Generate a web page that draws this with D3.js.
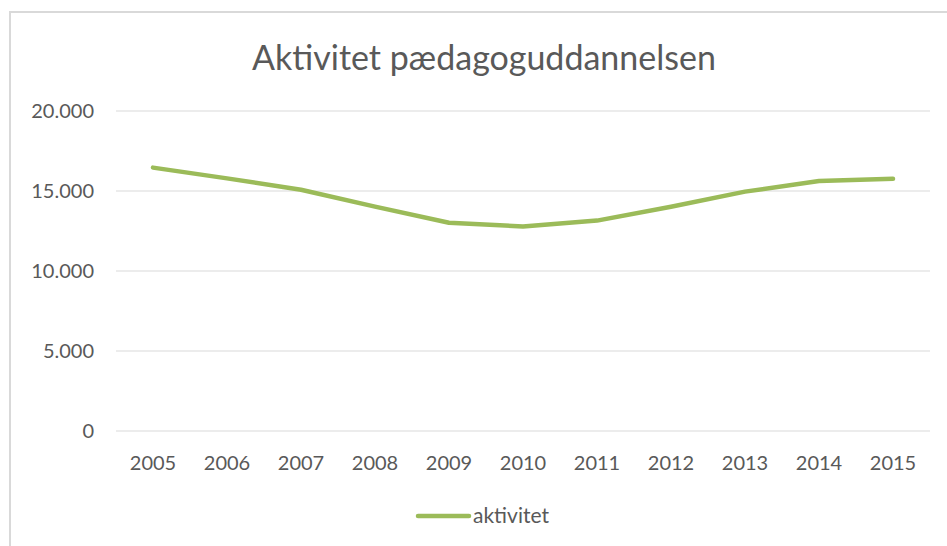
<!DOCTYPE html>
<html>
<head>
<meta charset="utf-8">
<script src="https://cdnjs.cloudflare.com/ajax/libs/d3/7.8.5/d3.min.js"></script>
<style>
  body { margin: 0; background: #fff; }
  svg text { font-family: Lato, "Open Sans", sans-serif; fill: #595959; }
</style>
</head>
<body>
<svg id="vis_svg" width="947" height="546"></svg>
<script>
// data
let years = ['2005', '2006', '2007', '2008', '2009', '2010', '2011', '2012', '2013', '2014', '2015'];
let aktivitet = [16460, 15790, 15080, 14020, 13020, 12780, 13150, 14020, 14960, 15620, 15760];
let yTicks = [0, 5000, 10000, 15000, 20000];
let seriesName = 'aktivitet';
let title = 'Aktivitet pædagoguddannelsen';

let svg = d3.select('svg#vis_svg');

// chart frame
svg.append('rect')
    .attr('x', 10).attr('y', 12)
    .attr('width', 945).attr('height', 545)
    .attr('fill', 'none')
    .attr('stroke', '#d9d9d9')
    .attr('stroke-width', 2);

let plotLeft = 116, plotRight = 930, plotTop = 111, plotBottom = 431;

let x = d3.scaleBand().domain(years).range([plotLeft, plotRight]);
let y = d3.scaleLinear().domain([0, 20000]).range([plotBottom, plotTop]);

// danish thousands separator
let fmt = d3.formatLocale({decimal: ',', thousands: '.', grouping: [3], currency: ['', ' kr.']}).format(',d');

// gridlines
svg.append('g')
    .selectAll('line')
    .data(yTicks)
    .enter()
    .append('line')
    .attr('x1', plotLeft).attr('x2', plotRight)
    .attr('y1', d => y(d)).attr('y2', d => y(d))
    .attr('stroke', '#d9d9d9')
    .attr('stroke-width', 1);

// y labels
svg.append('g')
    .selectAll('text')
    .data(yTicks)
    .enter()
    .append('text')
    .attr('x', 94)
    .attr('y', d => y(d))
    .attr('dy', '0.35em')
    .attr('text-anchor', 'end')
    .style('font-size', '20px')
    .text(d => fmt(d));

// x labels
svg.append('g')
    .selectAll('text')
    .data(years)
    .enter()
    .append('text')
    .attr('x', d => x(d) + x.bandwidth() / 2)
    .attr('y', 470)
    .attr('text-anchor', 'middle')
    .style('font-size', '20px')
    .text(d => d);

// the line
let line = d3.line()
    .x((d, i) => x(years[i]) + x.bandwidth() / 2)
    .y(d => y(d));

svg.append('path')
    .datum(aktivitet)
    .attr('d', line)
    .attr('fill', 'none')
    .attr('stroke', '#9bbb59')
    .attr('stroke-width', 4.5)
    .attr('stroke-linecap', 'round')
    .attr('stroke-linejoin', 'round');

// title
svg.append('text')
    .attr('x', 484)
    .attr('y', 70)
    .attr('text-anchor', 'middle')
    .style('font-size', '34px')
    .text(title);

// legend
let legend = svg.append('g');
legend.append('line')
    .attr('x1', 418).attr('x2', 469)
    .attr('y1', 516).attr('y2', 516)
    .attr('stroke', '#9bbb59')
    .attr('stroke-width', 4.5)
    .attr('stroke-linecap', 'round');
legend.append('text')
    .attr('x', 473)
    .attr('y', 523)
    .style('font-size', '21px')
    .text(seriesName);
</script>
</body>
</html>
